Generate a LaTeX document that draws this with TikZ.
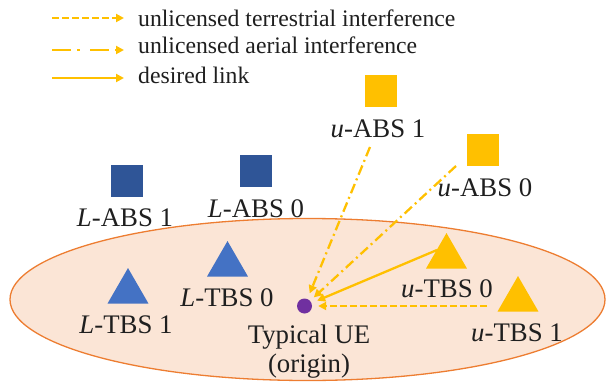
\documentclass[tikz,border=0pt]{standalone}
\usepackage{fontspec}
\setmainfont{Liberation Serif}
\usetikzlibrary{arrows.meta,shapes.geometric}
\definecolor{gold}{HTML}{FFC000}
\definecolor{dblue}{HTML}{2F5597}
\definecolor{mblue}{HTML}{4472C4}
\definecolor{peach}{HTML}{FBE5D6}
\definecolor{orng}{HTML}{ED7D31}
\definecolor{purp}{HTML}{7030A0}
\definecolor{txt}{HTML}{1F1F1F}
\tikzset{
  sq/.style={rectangle, minimum size=32pt, inner sep=0pt},
  tri/.style={regular polygon, regular polygon sides=3, minimum size=47.3pt, inner sep=0pt},
  lbl/.style={anchor=base, inner sep=0pt, text=txt, font=\fontsize{26.8}{30}\selectfont},
  leg/.style={anchor=base west, inner sep=0pt, text=txt, font=\fontsize{23.7}{27}\selectfont},
  link/.style={gold, line width=2.3pt, -{Triangle[length=8pt,width=8pt]}},
  terr/.style={link, dash pattern=on 7pt off 3pt},
  aer/.style={link, dash pattern=on 10pt off 4pt on 2pt off 4pt},
  aerleg/.style={link, dash pattern=on 19pt off 6pt on 3pt off 10pt},
}
\begin{document}
\begin{tikzpicture}[x=1pt,y=-1pt]
\useasboundingbox (0,0) rectangle (606,383);
% ellipse region
\node (region) [ellipse, fill=peach, draw=orng, line width=1.3pt, minimum width=595pt, minimum height=162pt, inner sep=0pt] at (307.5,299.5) {};
% legend
\coordinate (l1a) at (52,18);  \coordinate (l1b) at (124,18);
\coordinate (l2a) at (52,50);  \coordinate (l2b) at (124,50);
\coordinate (l3a) at (52,78);  \coordinate (l3b) at (124,78);
\draw[terr] (l1a) -- (l1b);
\draw[aerleg] (l2a) -- (l2b);
\draw[link] (l3a) -- (l3b);
\node[leg] (t1) at (138,26) {unlicensed terrestrial interference};
\node[leg] (t2) at (138,53) {unlicensed aerial interference};
\node[leg] (t3) at (138,83) {desired link};
% squares (ABS)
\node[sq, fill=gold] (uabs1) at (380.5,91) {};
\node[sq, fill=gold] (uabs0) at (483,150) {};
\node[sq, fill=dblue] (labs1) at (126.5,181) {};
\node[sq, fill=dblue] (labs0) at (256,171) {};
\node[lbl] (uabs1l) at (378,137) {\textit{u}-ABS 1};
\node[lbl] (uabs0l) at (485,196) {\textit{u}-ABS 0};
\node[lbl] (labs1l) at (125,226) {\textit{L}-ABS 1};
\node[lbl] (labs0l) at (256,217) {\textit{L}-ABS 0};
% triangles (TBS)
\node[tri, fill=mblue] (ltbs1) at (128,291.7) {};
\node[tri, fill=mblue] (ltbs0) at (227.5,264.7) {};
\node[tri, fill=gold] (utbs0) at (446.5,256.7) {};
\node[tri, fill=gold] (utbs1) at (518,299.7) {};
\node[lbl] (ltbs1l) at (126,333) {\textit{L}-TBS 1};
\node[lbl] (ltbs0l) at (227,306) {\textit{L}-TBS 0};
\node[lbl] (utbs0l) at (447,297) {\textit{u}-TBS 0};
\node[lbl] (utbs1l) at (517,341) {\textit{u}-TBS 1};
% typical UE
\node[circle, fill=purp, minimum size=15pt, inner sep=0pt] (ue) at (304.5,306) {};
\node[lbl] (uel) at (309,343) {Typical UE};
\node[lbl] (uel2) at (309,372) {(origin)};
% links
\coordinate (s1) at (370,147);
\coordinate (s2) at (456,166);
\coordinate (s3) at (437,250);
\coordinate (s4) at (487,306);
\draw[aer, shorten >=6pt] (s1) -- (ue);
\draw[aer, shorten >=5pt] (s2) -- (ue);
\draw[link, shorten >=6pt] (s3) -- (ue);
\draw[terr, shorten >=6pt] (s4) -- (ue);
\end{tikzpicture}
\end{document}
